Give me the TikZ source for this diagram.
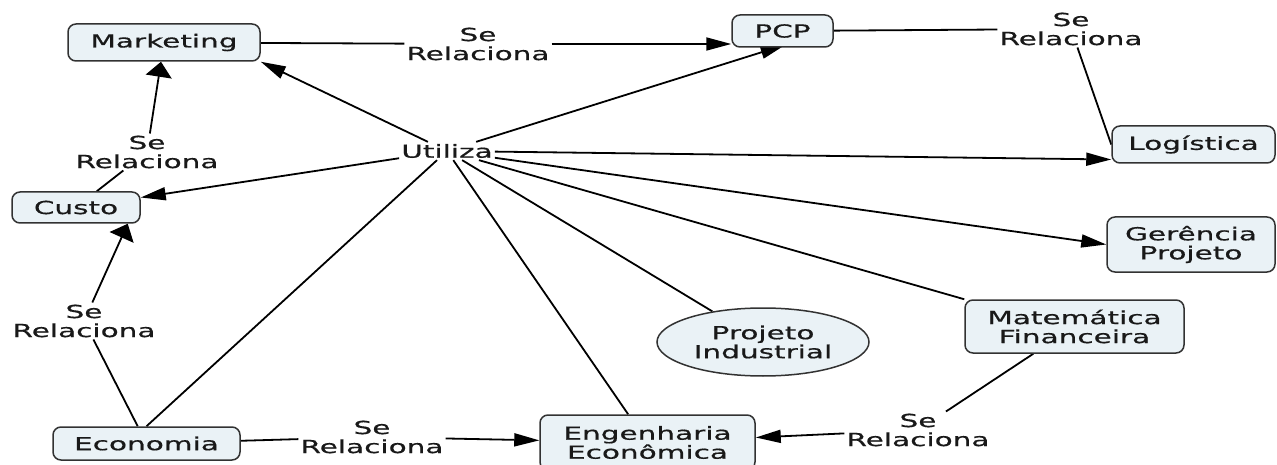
\documentclass[tikz,border=0pt]{standalone}
\usepackage{fontspec}
\setmainfont{DejaVu Sans}[FakeStretch=1.64,FakeBold=0.6]
\usetikzlibrary{arrows.meta,shapes.geometric,backgrounds}
\definecolor{boxfill}{RGB}{234,242,246}
\definecolor{bordercol}{RGB}{50,50,50}
\definecolor{txtcol}{RGB}{25,25,25}
\begin{document}
\begin{tikzpicture}[x=1pt,y=-1pt,
  every node/.style={font=\fontsize{18pt}{19pt}\selectfont, text=txtcol},
  concept/.style={draw=bordercol, fill=boxfill, rounded corners=8pt, line width=1.5pt, inner sep=0pt, align=center},
  oval/.style={draw=bordercol, fill=boxfill, ellipse, line width=1.5pt, inner sep=0pt, align=center},
  lbl/.style={inner sep=2pt, align=center},
  conn/.style={line width=1.8pt, draw=black},
  arr/.style={conn, -{Triangle[length=25pt,width=13pt]}},
  varr/.style={conn, -{Triangle[length=15pt,width=26pt]}},
]
\useasboundingbox (0,0) rectangle (1277,465);
% concepts
\node[concept, minimum width=192pt, minimum height=37pt] (mkt) at (164,42.5) {Marketing};
\node[concept, minimum width=128pt, minimum height=31pt] (custo) at (76,207.5) {Custo};
\node[concept, minimum width=101pt, minimum height=32pt] (pcp) at (782.5,31) {PCP};
\node[concept, minimum width=163pt, minimum height=37pt] (log) at (1193.5,144.5) {Logística};
\node[concept, minimum width=168pt, minimum height=55pt] (ger) at (1191,244.5) {Gerência\\Projeto};
\node[concept, minimum width=219pt, minimum height=53pt] (mf) at (1074.5,326.5) {Matemática\\Financeira};
\node[oval, minimum width=212pt, minimum height=68pt] (pi) at (763,342) {Projeto\\Industrial};
\node[concept, minimum width=215pt, minimum height=55pt] (ee) at (647.5,442.5) {Engenharia\\Econômica};
\node[concept, minimum width=187pt, minimum height=33pt] (eco) at (146.5,443.5) {Economia};
% linking phrases
\node[lbl] (ut) at (447,151) {Utiliza};
\node[lbl] (l1) at (478,44) {Se\\Relaciona};
\node[lbl] (l2) at (1071,29) {Se\\Relaciona};
\node[lbl] (l3) at (147,152) {Se\\Relaciona};
\node[lbl] (l4) at (84,321) {Se\\Relaciona};
\node[lbl] (l5) at (372,437) {Se\\Relaciona};
\node[lbl] (l6) at (918,430) {Se\\Relaciona};
% connectors
\begin{pgfonlayer}{background}
\draw[conn] (mkt) -- (l1);
\draw[arr] (l1) -- (pcp.west |- l1);
\draw[conn] (pcp) -- (l2);
\draw[conn] (l2) -- (log.west);
\draw[conn] (custo) -- (l3);
\draw[varr] (l3) -- (mkt);
\draw[conn] (eco) -- (l4);
\draw[varr] (l4) -- ([xshift=-13pt]custo.south east);
\draw[conn] (eco) -- (l5);
\draw[arr] (l5) -- (ee);
\draw[conn] (mf) -- (l6);
\draw[arr] (l6) -- (ee);
\draw[arr] (ut) -- (mkt.south east);
\draw[arr] (ut) -- ([yshift=10pt]custo.east);
\draw[arr] (ut) -- ([xshift=3pt,yshift=3pt]pcp.south);
\draw[arr] (ut) -- ([yshift=-15pt]log.west);
\draw[arr] (ut) -- (ger.west);
\draw[conn] (ut) -- (mf.north west);
\draw[conn] (ut) -- (pi);
\draw[conn] (ut) -- (ee);
\draw[conn] (ut) -- (eco.north);
\end{pgfonlayer}
\end{tikzpicture}
\end{document}
